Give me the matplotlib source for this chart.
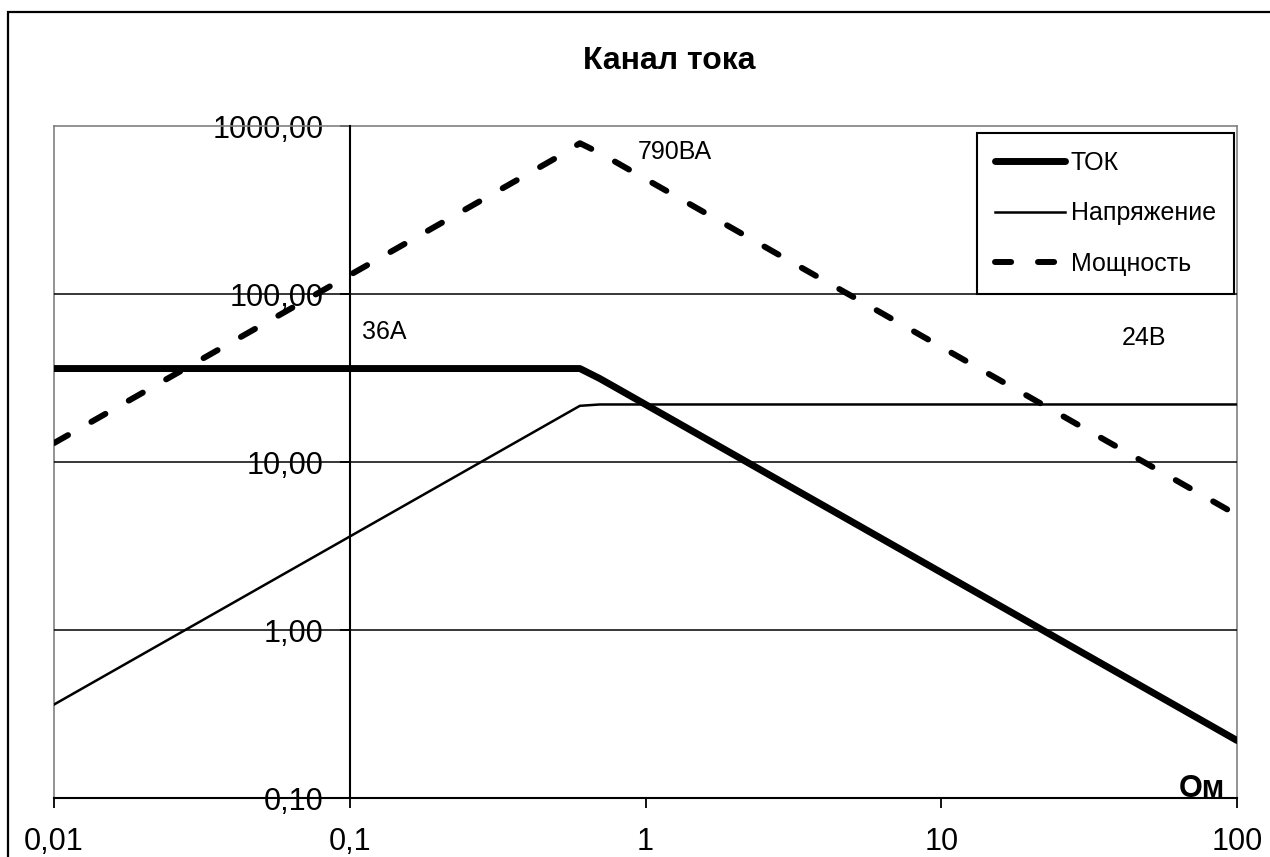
import matplotlib.pyplot as plt
from matplotlib.lines import Line2D
from matplotlib.patches import Rectangle

plt.rcParams['font.family'] = ['Liberation Sans', 'DejaVu Sans']

# load resistance, Ohm
resistance = [0.01, 0.02, 0.03, 0.05, 0.1, 0.2, 0.3, 0.5, 0.6, 0.7, 0.8,
              1, 2, 3, 5, 10, 20, 30, 50, 100]
# current channel output: current (A), voltage (V), power (VA)
current = [36, 36, 36, 36, 36, 36, 36, 36, 36, 31.4, 27.5,
           22, 11, 7.33, 4.4, 2.2, 1.1, 0.733, 0.44, 0.22]
voltage = [0.36, 0.72, 1.08, 1.8, 3.6, 7.2, 10.8, 18, 21.6, 22, 22,
           22, 22, 22, 22, 22, 22, 22, 22, 22]
power = [12.96, 25.92, 38.88, 64.8, 129.6, 259.2, 388.8, 648, 790, 691, 605,
         484, 242, 161, 96.8, 48.4, 24.2, 16.1, 9.68, 4.84]

x_ticks = [0.01, 0.1, 1, 10, 100]
x_labels = ['0,01', '0,1', '1', '10', '100']
y_ticks = [0.1, 1, 10, 100, 1000]
y_labels = ['0,10', '1,00', '10,00', '100,00', '1000,00']

W, H = 1270, 857
fig = plt.figure(figsize=(W / 100, H / 100), dpi=100)
ax = fig.add_axes([54 / W, 1 - 798 / H, (1237 - 54) / W, (798 - 126) / H])

# outer chart frame (only its left and top edges fall inside the image)
fig.patches.append(Rectangle((8 / W, -0.1), 1.2, 1 - 12 / H + 0.1,
                             transform=fig.transFigure, fill=False,
                             edgecolor='black', lw=1.6))

ax.set_xscale('log')
ax.set_yscale('log')
ax.set_xlim(0.01, 100)
ax.set_ylim(0.1, 1000)

# horizontal grid
for g in [1, 10, 100]:
    ax.axhline(g, color='black', lw=1.1, zorder=3)

ax.plot(resistance, current, color='black', lw=5, solid_capstyle='round',
        solid_joinstyle='round', label='ТОК', zorder=5)
ax.plot(resistance, voltage, color='black', lw=1.8, label='Напряжение',
        zorder=5)
ax.plot(resistance, power, color='black', lw=4.3, dashes=(2.7, 4.5),
        dash_capstyle='round', label='Мощность', zorder=5)

# axes: y axis crosses at 0.1 Ohm, gray plot area border
ax.spines['left'].set_position(('data', 0.1))
ax.spines['left'].set_linewidth(1.5)
ax.spines['left'].set_zorder(4)
ax.spines['bottom'].set_linewidth(1.5)
ax.spines['bottom'].set_zorder(4)
for s in ['top', 'right']:
    ax.spines[s].set_color('#808080')
    ax.spines[s].set_linewidth(1.2)
ax.add_line(Line2D([0, 0], [0, 1], transform=ax.transAxes, color='#808080',
                   lw=1.2, clip_on=False))

ax.set_xticks(x_ticks, x_labels)
ax.set_yticks(y_ticks, y_labels)
ax.minorticks_off()
ax.tick_params(axis='x', direction='out', length=7, width=1.3, pad=14,
               labelsize=22)
ax.tick_params(axis='y', direction='out', length=7, width=1.3, pad=12,
               labelsize=22)

fig.text(669 / W, 1 - 69 / H, 'Канал тока', fontsize=23, fontweight='bold',
         ha='center', va='baseline')

ax.text(1225 / W, 1 - 797 / H, 'Ом', transform=fig.transFigure, fontsize=22,
        fontweight='bold', ha='right', va='baseline', zorder=6)

ax.text(0.11, 59, '36А', fontsize=18, va='center', ha='left', zorder=6)
ax.text(0.94, 700, '790ВА', fontsize=18, va='center', ha='left', zorder=6)
ax.text(40.8, 54.7, '24В', fontsize=18, va='center', ha='left', zorder=6)

leg = ax.legend(loc='upper right', bbox_to_anchor=(1234 / W, 1 - 133 / H),
                bbox_transform=fig.transFigure, borderaxespad=0,
                fontsize=18, handlelength=2.8, handletextpad=0.25,
                labelspacing=1.05, borderpad=0.72, fancybox=False,
                framealpha=1, edgecolor='black')
leg.get_frame().set_linewidth(1.5)
leg.set_zorder(7)

fig.savefig('out.png', dpi=100)
